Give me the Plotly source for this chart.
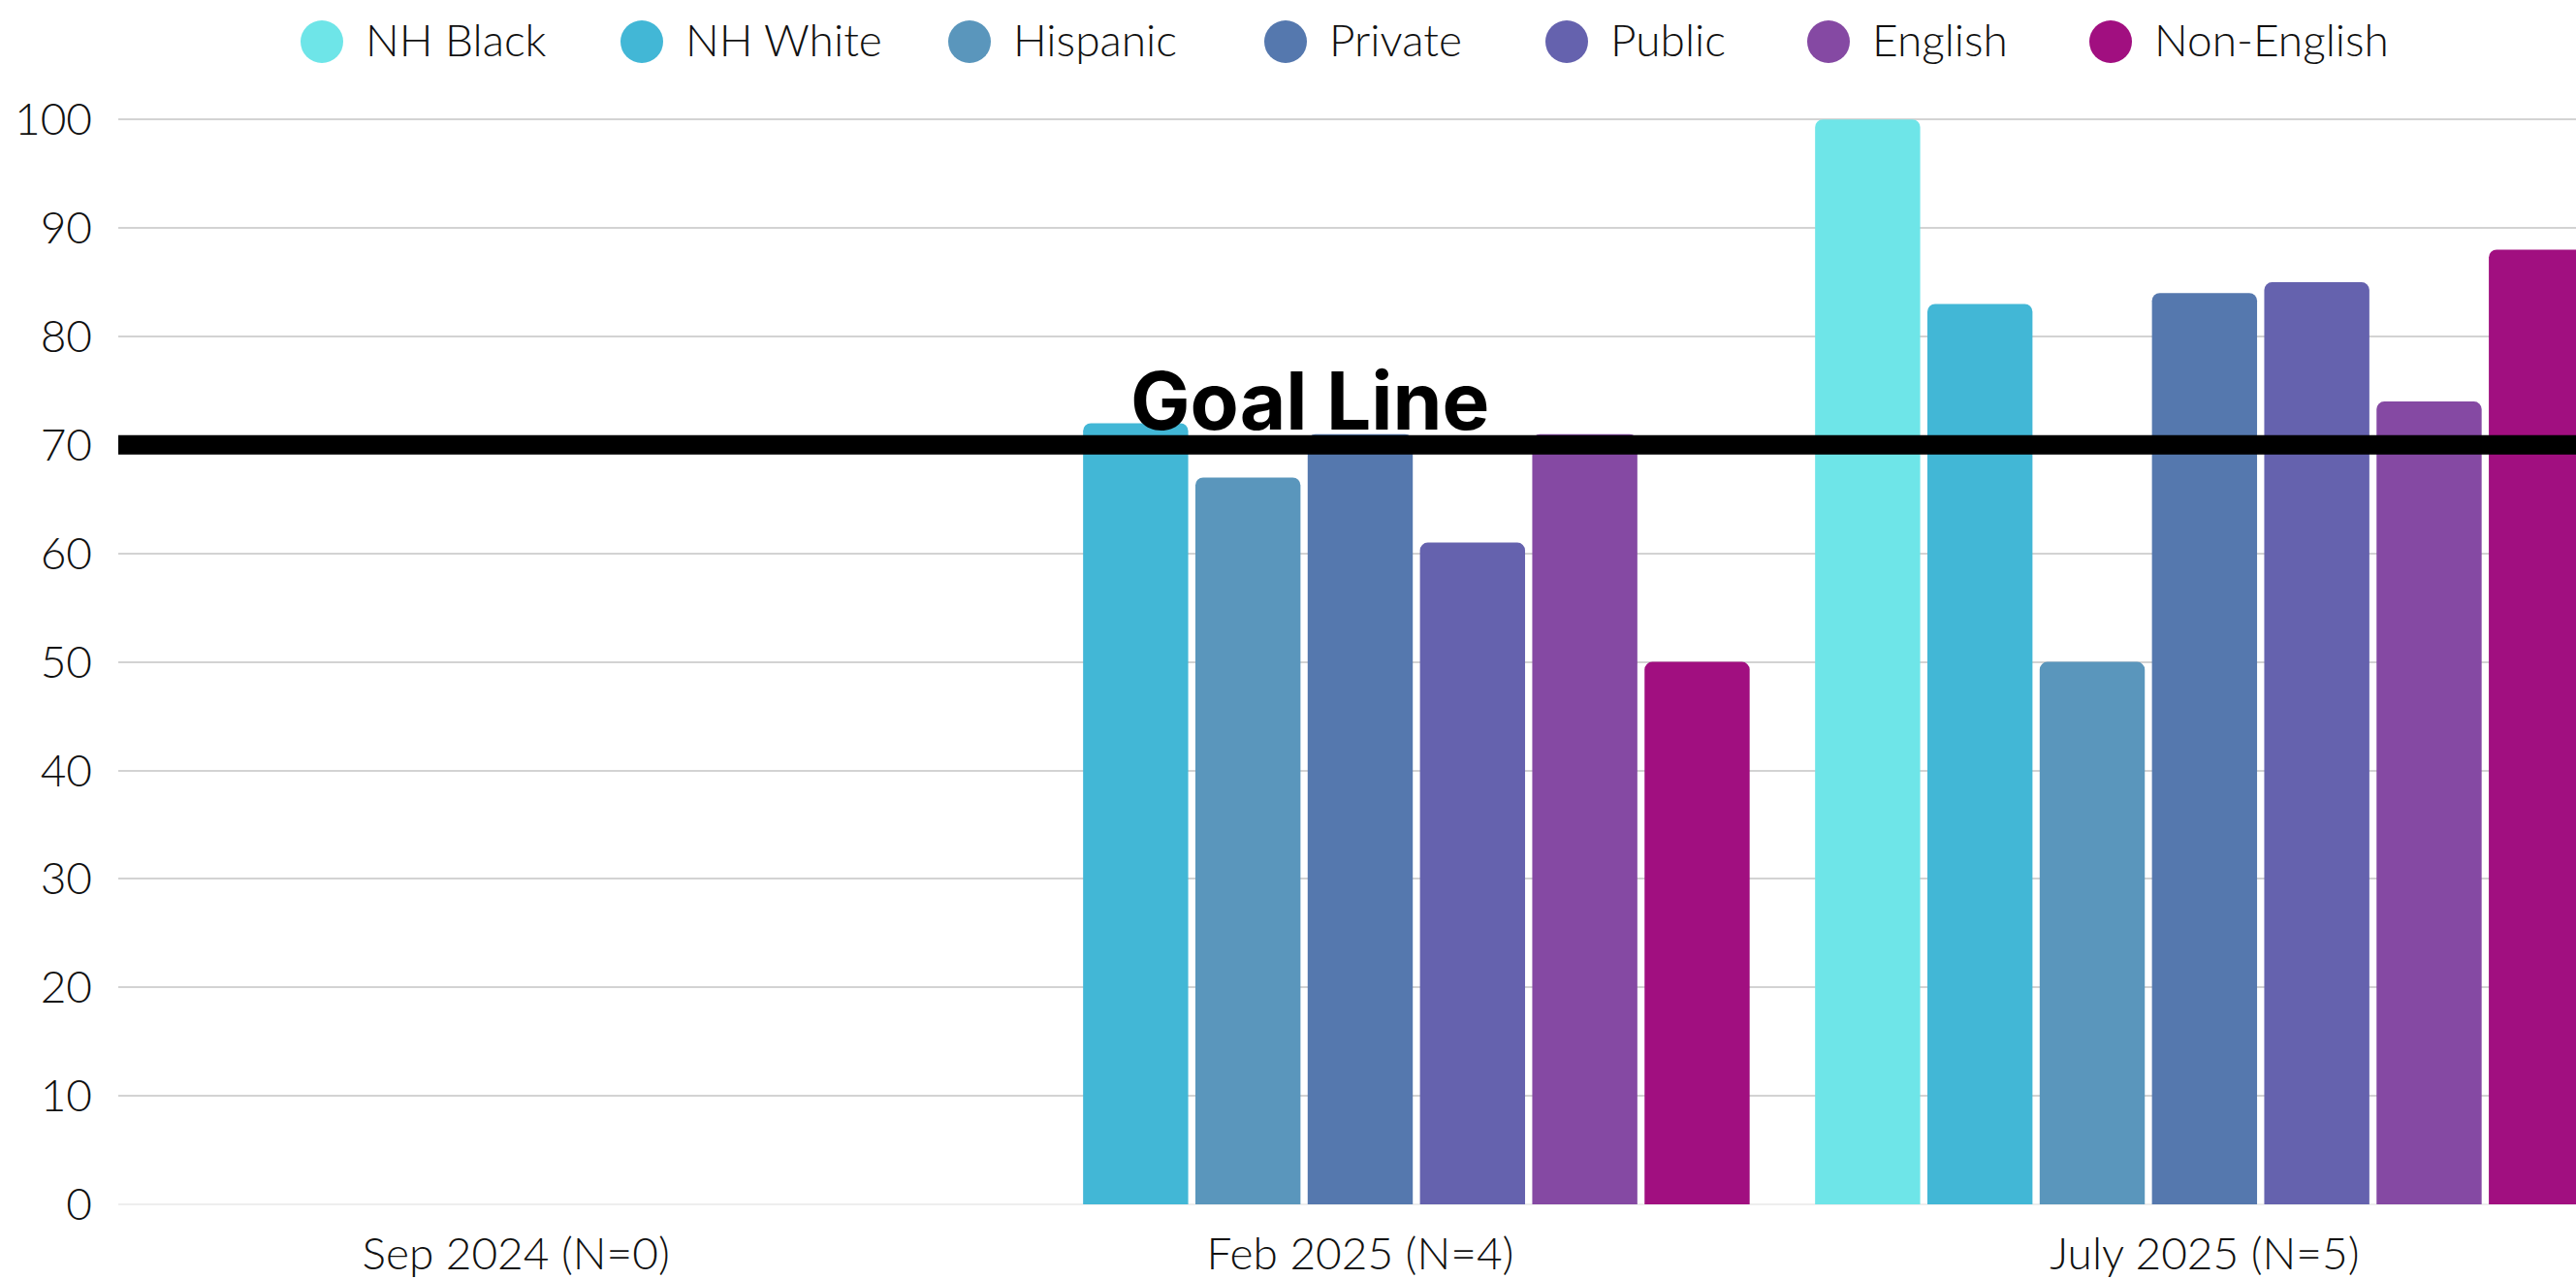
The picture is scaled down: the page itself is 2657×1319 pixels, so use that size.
import plotly.graph_objects as go

# ---- data -------------------------------------------------------------
periods = ["Sep 2024 (N=0)", "Feb 2025 (N=4)", "July 2025 (N=5)"]
groups = ["NH Black", "NH White", "Hispanic", "Private", "Public", "English", "Non-English"]

nh_black = [None, None, 100]
nh_white = [None, 72, 83]
hispanic = [None, 67, 50]
private = [None, 71, 84]
public = [None, 61, 85]
english = [None, 71, 74]
non_english = [None, 50, 88]

goal_value = 70
y_ticks = [0, 10, 20, 30, 40, 50, 60, 70, 80, 90, 100]

series = [nh_black, nh_white, hispanic, private, public, english, non_english]
colors = ["#6ee5e8", "#42b7d6", "#5a96bc", "#5578ae", "#6562ae", "#8549a3", "#a10f80"]

# ---- canvas geometry (pixels) ----------------------------------------
W, H = 2657, 1319
ML, MR, MT, MB = 122, 0, 121, 77
PW, PH = W - ML - MR, H - MT - MB


def px_x(p):
    return (p - ML) / PW


def px_y(p):
    return (H - MB - p) / PH


FONT = "Lato, 'Open Sans', sans-serif"
TEXT_FONT = dict(family=FONT, size=46, color="#111111", weight=300)

fig = go.Figure()
for name, vals, col in zip(groups, series, colors):
    fig.add_trace(go.Bar(
        name=name, x=periods, y=vals,
        marker=dict(color=col, line=dict(width=0)),
        showlegend=False,
    ))

# goal line across the plot
fig.add_shape(type="line", xref="paper", yref="y", x0=0, x1=1,
              y0=goal_value, y1=goal_value,
              line=dict(color="black", width=20), layer="above")
fig.add_annotation(text="<b>Goal Line</b>", xref="paper", yref="paper",
                   x=px_x(1351), y=px_y(413), xanchor="center", yanchor="middle",
                   showarrow=False,
                   font=dict(family="Inter, 'Noto Sans', sans-serif", size=82, color="black"))

# legend row with round swatches
legend_cx = [332, 662, 1000, 1326, 1616, 1886, 2177]
legend_cy = 43
r = 22
for name, col, cx in zip(groups, colors, legend_cx):
    fig.add_shape(type="circle", xref="paper", yref="paper",
                  x0=px_x(cx - r), x1=px_x(cx + r),
                  y0=px_y(legend_cy + r), y1=px_y(legend_cy - r),
                  fillcolor=col, line=dict(width=0))
    fig.add_annotation(text=name, xref="paper", yref="paper",
                       x=px_x(cx + r + 21), y=px_y(legend_cy - 3),
                       xanchor="left", yanchor="middle", showarrow=False,
                       font=TEXT_FONT)

fig.update_layout(
    width=W, height=H,
    margin=dict(l=ML, r=MR, t=MT, b=MB, pad=0),
    paper_bgcolor="white", plot_bgcolor="white",
    barmode="group", bargap=0.069, bargroupgap=0.064,
    barcornerradius=8,
    font=dict(family=FONT, color="#111111"),
    xaxis=dict(
        type="category", range=[-0.471, 2.44],
        showgrid=False, showline=False, zeroline=False,
        tickfont=TEXT_FONT,
        ticks="", ticklabelstandoff=20,
    ),
    yaxis=dict(
        range=[0, 100.2], tickvals=y_ticks,
        showgrid=True, gridcolor="#d3d3d3", gridwidth=2,
        zeroline=True, zerolinecolor="#eeeeee", zerolinewidth=2,
        showline=False,
        tickfont=TEXT_FONT,
        ticks="", ticklabelstandoff=26,
    ),
)

fig.write_html("out.html")
